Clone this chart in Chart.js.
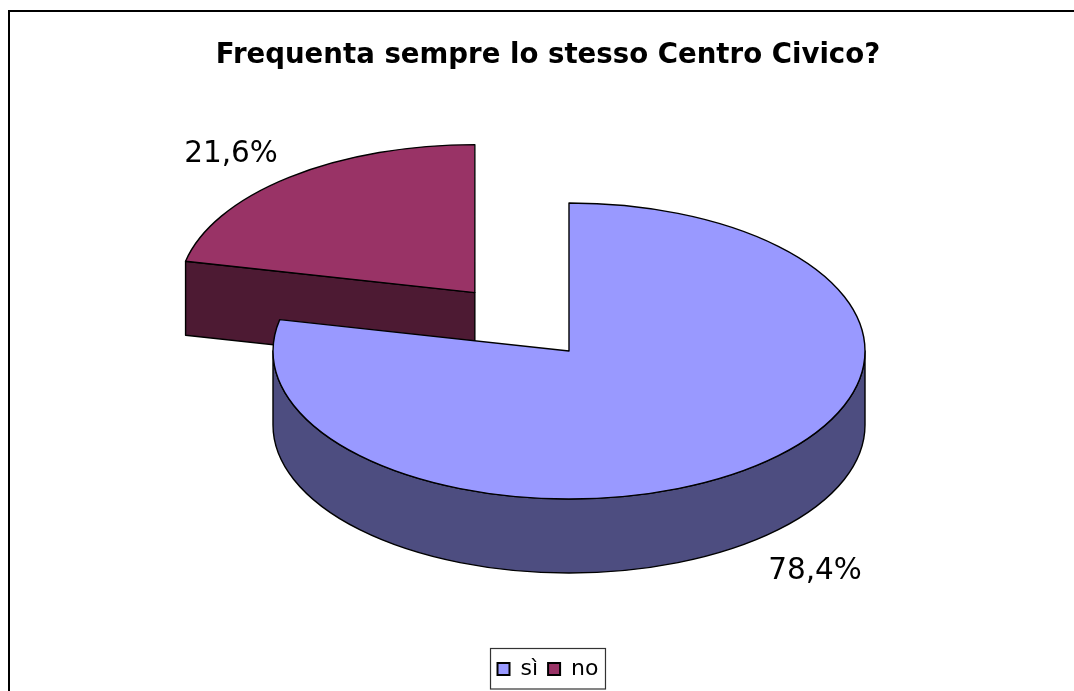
<!DOCTYPE html>
<html>
<head>
<meta charset="utf-8">
<style>html,body{margin:0;padding:0;background:#fff}canvas{display:block}</style>
<script src="https://cdn.jsdelivr.net/npm/chart.js@4"></script>
</head>
<body>
<canvas id="c" width="1074" height="691"></canvas>
<script>
const titleText = 'Frequenta sempre lo stesso Centro Civico?';
const categories = ['sì', 'no'];
const shares = [78.4, 21.6];
const valueLabels = ['78,4%', '21,6%'];
const topColors = ['#9999ff', '#993366'];
const wallColors = ['#4d4d80', '#4d1a33'];
const explode = [0, 600];

const FONT = '"DejaVu Sans", Verdana, sans-serif';
const SQUASH = 0.5, DEPTH = 74, TARGET_X = 569, TARGET_Y = 351, EPS = 1e-6;
const labelSpots = [[815, 571], [231, 154]];

// Chart.js grows an offset arc's radius by offset/4 * (1 - sin(circumference)).
function radiusGrowth(el) {
  const off = (el.options.offset || 0) / 4;
  return off * (1 - Math.sin(Math.min(Math.PI, el.circumference || 0)));
}

function geometry(chart, el) {
  const p = el.getProps(['x', 'y', 'startAngle', 'endAngle', 'outerRadius'], true);
  const mid = (p.startAngle + p.endAngle) / 2;
  const off = (el.options.offset || 0) / 4;
  const area = chart.chartArea;
  const cx = (area.left + area.right) / 2, cy = (area.top + area.bottom) / 2;
  return {
    a0: p.startAngle, a1: p.endAngle, R: p.outerRadius + radiusGrowth(el),
    x: TARGET_X + (p.x - cx) + Math.cos(mid) * off,
    y: TARGET_Y + SQUASH * (p.y - cy + Math.sin(mid) * off)
  };
}
function rim(g, a) { return [g.x + g.R * Math.cos(a), g.y + g.R * SQUASH * Math.sin(a)]; }

const pie3d = {
  id: 'pie3d',
  afterDatasetsUpdate(chart) {
    chart.getDatasetMeta(0).data.forEach(el => { el.outerRadius -= radiusGrowth(el); });
  },
  beforeDraw(chart) {
    const c = chart.ctx;
    c.save();
    c.fillStyle = '#fff';
    c.fillRect(0, 0, chart.width, chart.height);
    c.strokeStyle = '#000';
    c.lineWidth = 2;
    c.strokeRect(9, 11, chart.width + 20, chart.height + 20);
    c.restore();
  },
  beforeDatasetsDraw(chart) {
    const c = chart.ctx, arcs = chart.getDatasetMeta(0).data;
    c.save();
    c.strokeStyle = '#000';
    c.lineWidth = 1.4;
    c.lineJoin = 'round';
    for (let i = arcs.length - 1; i >= 0; i--) {
      const g = geometry(chart, arcs[i]);
      c.fillStyle = wallColors[i];
      [[g.a0, -Math.PI / 2], [g.a1, Math.PI / 2]].forEach(([a, n]) => {
        if (Math.sin(a + n) > EPS) {
          const r = rim(g, a);
          c.beginPath();
          c.moveTo(g.x, g.y);
          c.lineTo(r[0], r[1]);
          c.lineTo(r[0], r[1] + DEPTH);
          c.lineTo(g.x, g.y + DEPTH);
          c.closePath();
          c.fill();
          c.stroke();
        }
      });
      const lo = Math.max(g.a0, 0), hi = Math.min(g.a1, Math.PI);
      if (hi > lo) {
        c.beginPath();
        c.ellipse(g.x, g.y, g.R, g.R * SQUASH, 0, lo, hi, false);
        c.ellipse(g.x, g.y + DEPTH, g.R, g.R * SQUASH, 0, hi, lo, true);
        c.closePath();
        c.fill();
        c.stroke();
      }
    }
    c.restore();
    const area = chart.chartArea;
    const cx = (area.left + area.right) / 2, cy = (area.top + area.bottom) / 2;
    c.save();
    c.translate(TARGET_X, TARGET_Y);
    c.scale(1, SQUASH);
    c.translate(-cx, -cy);
  },
  afterDatasetsDraw(chart) {
    const c = chart.ctx, arcs = chart.getDatasetMeta(0).data;
    c.restore();
    c.save();
    c.strokeStyle = '#000';
    c.lineWidth = 1.4;
    c.lineJoin = 'round';
    arcs.forEach(el => {
      const g = geometry(chart, el);
      c.beginPath();
      c.moveTo(g.x, g.y);
      c.ellipse(g.x, g.y, g.R, g.R * SQUASH, 0, g.a0, g.a1, false);
      c.closePath();
      c.stroke();
    });
    c.restore();
  },
  afterDraw(chart) {
    const c = chart.ctx;
    c.save();
    c.fillStyle = '#000';
    c.font = '29.5px ' + FONT;
    c.textAlign = 'center';
    c.textBaseline = 'middle';
    valueLabels.forEach((t, i) => c.fillText(t, labelSpots[i][0], labelSpots[i][1]));
    const boxes = chart.legend.legendHitBoxes;
    const left = boxes[0].left - 7, right = boxes[boxes.length - 1].left + boxes[boxes.length - 1].width + 7;
    c.strokeStyle = '#333';
    c.lineWidth = 1.2;
    c.strokeRect(left, 648.5, right - left, 40.5);
    c.restore();
  }
};

new Chart(document.getElementById('c'), {
  type: 'pie',
  plugins: [pie3d],
  data: {
    labels: categories,
    datasets: [{
      data: shares,
      backgroundColor: topColors,
      borderWidth: 0,
      offset: explode,
      clip: false
    }]
  },
  options: {
    radius: 296,
    cutout: '0%',
    responsive: false,
    animation: false,
    events: [],
    layout: { padding: { left: 22, right: 0, top: 0, bottom: 1 } },
    plugins: {
      tooltip: { enabled: false },
      title: {
        display: true,
        text: titleText,
        color: '#000',
        font: { family: FONT, size: 27.6, weight: 'bold' },
        padding: { top: 39, bottom: 10 }
      },
      legend: {
        position: 'bottom',
        labels: {
          color: '#000',
          font: { family: FONT, size: 22 },
          boxWidth: 12,
          boxHeight: 12,
          padding: 10,
          generateLabels(chart) {
            return Chart.overrides.pie.plugins.legend.labels.generateLabels(chart)
              .map(it => Object.assign(it, { strokeStyle: '#000', lineWidth: 2 }));
          }
        }
      }
    }
  }
});
</script>
</body>
</html>
